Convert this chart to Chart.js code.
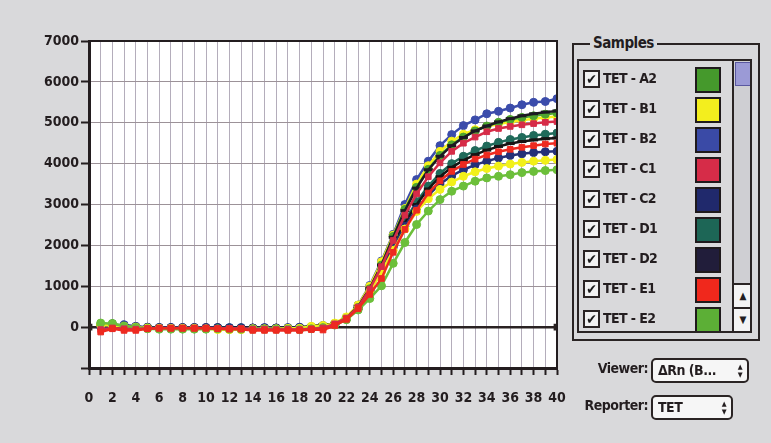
<!DOCTYPE html>
<html>
<head>
<meta charset="utf-8">
<script src="https://cdn.jsdelivr.net/npm/chart.js@4/dist/chart.umd.min.js"></script>
<style>
    html, body {
        margin: 0;
        padding: 0;
        width: 771px;
        height: 443px;
        overflow: hidden;
        background: #d9d9db;
        font-family: "DejaVu Sans Condensed", "Liberation Sans Narrow", "DejaVu Sans", sans-serif;
        font-stretch: condensed;
    }
    #chartBox {
        position: absolute;
        left: 0;
        top: 0;
    }
</style>
</head>
<body>
<canvas id="chartBox" width="575" height="443"></canvas>
<samples-panel></samples-panel>

<script>
// cycle numbers
const cycles = [1, 2, 3, 4, 5, 6, 7, 8, 9, 10, 11, 12, 13, 14, 15, 16, 17, 18, 19, 20,
    21, 22, 23, 24, 25, 26, 27, 28, 29, 30, 31, 32, 33, 34, 35, 36, 37, 38, 39, 40];

// delta Rn per sample, cycles 1..40
const tetA2 = [60, 90, 30, 0, -20, -30, -30, -30, -30, -30, -20, -30, -30, -30, -30, -30, -30, -30, -20, 10,
    70, 210, 480, 940, 1520, 2220, 2880, 3420, 3860, 4200, 4460, 4650, 4800, 4920, 5010, 5080, 5130, 5170, 5210, 5240];
const tetB1 = [40, 20, 10, -10, -30, -30, -30, -20, -20, -20, -50, -60, -60, -40, -40, -30, -30, -30, -10, 30,
    100, 250, 540, 1000, 1600, 2250, 2900, 3500, 3950, 4300, 4550, 4720, 4830, 4910, 4970, 5020, 5060, 5100, 5130, 5150];
const tetB2 = [20, 10, 60, 20, 0, -10, -10, -10, -10, -10, -10, -10, -10, -20, -10, -20, -10, 0, 10, 40,
    90, 240, 540, 1020, 1620, 2270, 3000, 3610, 4060, 4440, 4710, 4930, 5070, 5220, 5280, 5360, 5440, 5500, 5520, 5590];
const tetC1 = [-60, -20, -40, -50, -30, -20, -20, -20, -20, -20, -30, -30, -30, -50, -50, -60, -50, -60, -40, -20,
    80, 220, 490, 930, 1480, 2120, 2740, 3260, 3680, 4020, 4300, 4500, 4650, 4780, 4860, 4910, 4950, 4980, 5010, 5030];
const tetC2 = [10, 0, 30, 10, -10, -10, -10, -10, -10, -10, -10, -20, -20, -20, -20, -20, -20, -10, 0, 30,
    70, 200, 460, 880, 1380, 1950, 2470, 2890, 3230, 3500, 3700, 3850, 3970, 4060, 4140, 4200, 4240, 4270, 4290, 4300];
const tetD1 = [30, 20, 10, 0, -10, -20, -20, -20, -20, -20, -20, -20, -20, -30, -30, -30, -30, -30, -20, 20,
    80, 210, 470, 900, 1420, 2030, 2600, 3070, 3450, 3760, 4000, 4180, 4320, 4430, 4520, 4590, 4640, 4690, 4720, 4750];
const tetD2 = [20, 10, 20, 0, -10, -10, -10, -10, -10, -10, -10, -10, -10, -20, -20, -20, -20, -10, 10, 50,
    80, 220, 500, 950, 1520, 2200, 2850, 3400, 3850, 4180, 4440, 4640, 4800, 4920, 5020, 5100, 5170, 5220, 5260, 5290];
const tetE1 = [-120, -40, -80, -80, -40, -30, -30, -30, -30, -30, -40, -50, -50, -80, -80, -80, -80, -80, -60, -70,
    40, 190, 450, 800, 1190, 1830, 2390, 2860, 3280, 3580, 3810, 3980, 4110, 4210, 4290, 4350, 4400, 4440, 4480, 4500];
const tetE2 = [100, 80, 20, -10, -40, -50, -50, -50, -50, -50, -40, -50, -50, -50, -50, -50, -50, -60, -40, -10,
    50, 180, 420, 700, 1010, 1560, 2070, 2510, 2840, 3120, 3325, 3450, 3570, 3650, 3690, 3730, 3780, 3810, 3830, 3850];
const tetF1 = [50, 40, 20, 0, -20, -30, -30, -30, -30, -40, -60, -60, -60, -40, -40, -40, -30, -30, 20, 40,
    80, 210, 460, 870, 1350, 1880, 2400, 2830, 3140, 3370, 3550, 3690, 3800, 3880, 3940, 3990, 4030, 4060, 4080, 4100];
const tetF2 = [30, 20, 10, 0, -10, -10, -10, -10, -10, -10, -10, -10, -10, -20, -20, -20, -10, 0, 20, 60,
    70, 200, 460, 880, 1400, 2000, 2550, 3000, 3380, 3680, 3910, 4080, 4220, 4330, 4420, 4490, 4540, 4580, 4610, 4630];

const sampleNames = ["TET - A2", "TET - B1", "TET - B2", "TET - C1", "TET - C2", "TET - D1", "TET - D2", "TET - E1", "TET - E2", "TET - F1", "TET - F2"];
const sampleValues = [tetA2, tetB1, tetB2, tetC1, tetC2, tetD1, tetD2, tetE1, tetE2, tetF1, tetF2];
const sampleColors = ["#45992c", "#f3ee1e", "#3a4aa6", "#d62c48", "#20296c", "#1d6656", "#211d3a", "#f0281c", "#5caf36", "#f3ee1e", "#1a1718"];
const plotColors = ["#4ea52f", "#f6f21c", "#3b4cab", "#d62c48", "#243078", "#1f6a5a", "#1c1a22", "#ee2a20", "#6cbf3a", "#f2f01a", "#161414"];
const markerStyles = ["circle", "circle", "circle", "rect", "circle", "circle", "line", "rect", "circle", "circle", "line"];

// threshold line
const thresholdValue = 0;

// y ticks 0..7000, x labels every 2 cycles
const yMin = -1000;
const yMax = 7000;
const xMin = 0;
const xMax = 40;

// order of drawing: first in this list ends up on top
const drawOrder = [7, 3, 8, 9, 4, 6, 0, 1, 10, 5, 2];


class SamplesPanel extends HTMLElement {

    shadow = this.attachShadow({ mode: "open" });

    constructor() {
        super();
        this.shadow.appendChild(this.createStyles());
        this.shadow.appendChild(this.createHTML());
    }

    createHTML() {
        const rows = sampleNames.map((name, i) => `
            <div class="row">
                <div class="check">&#10004;</div>
                <div class="name">${name}</div>
                <div class="swatch" style="background:${sampleColors[i]}"></div>
            </div>`).join("");

        const template = `
            <div class="group"></div>
            <div class="group-title">Samples</div>
            <div class="list">
                <div class="rows">${rows}</div>
                <div class="scroll">
                    <div class="thumb"></div>
                    <div class="arrow up">&#9650;</div>
                    <div class="arrow down">&#9660;</div>
                </div>
            </div>
            <div class="field-label" style="top:360px">Viewer:</div>
            <div class="select" style="top:358px;width:89px">&#916;Rn (B...<span class="spin">&#9650;<br>&#9660;</span></div>
            <div class="field-label" style="top:397px">Reporter:</div>
            <div class="select" style="top:395px;width:73px">TET<span class="spin">&#9650;<br>&#9660;</span></div>
        `;

        const componentRoot = document.createElement("div");
        componentRoot.setAttribute("class", "samples-panel");
        componentRoot.innerHTML = template;
        return componentRoot;
    }

    createStyles() {
        const style = document.createElement("style");
        style.textContent = `
            .samples-panel {
                position: absolute; left: 0; top: 0;
                font-family: "DejaVu Sans Condensed", "Liberation Sans Narrow", "DejaVu Sans", sans-serif;
                font-stretch: condensed; font-weight: bold; color: #231d1f;
            }
            .group {
                position: absolute; left: 572px; top: 43px; width: 184px; height: 294px;
                border: 2px solid #2a2424;
            }
            .group-title {
                position: absolute; left: 590px; top: 34px; padding: 0 3px;
                background: #d9d9db; font-size: 15px; letter-spacing: -0.5px;
            }
            .list {
                position: absolute; left: 577px; top: 59px; width: 171px; height: 270px;
                border: 2px solid #2a2424; overflow: hidden;
            }
            .rows { position: absolute; left: 0; top: 3px; width: 153px; }
            .row { position: relative; height: 30px; }
            .check {
                position: absolute; left: 4px; top: 6px; width: 13px; height: 14px;
                border: 2px solid #2a2424; background: #f2f2f2;
                font-size: 14px; line-height: 14px; text-align: center; color: #1a1a1a;
            }
            .name {
                position: absolute; left: 24px; top: 6px; font-size: 14px; letter-spacing: -0.6px;
                white-space: nowrap;
            }
            .swatch {
                position: absolute; left: 116px; top: 3px; width: 22px; height: 22px;
                border: 2px solid #1f1a1c;
            }
            .scroll {
                position: absolute; left: 153px; top: 0; width: 18px; height: 270px;
                border-left: 2px solid #2a2424; background: #cfcfd3;
            }
            .thumb {
                position: absolute; left: 1px; top: 1px; width: 14px; height: 22px;
                background: #9b9ad6; border: 1px solid #5a58a0;
            }
            .arrow {
                position: absolute; left: 0; width: 18px; height: 22px; background: #f4f4f4;
                border-top: 2px solid #2a2424; font-size: 10px; line-height: 22px; text-align: center;
            }
            .up { top: 222px; }
            .down { top: 246px; }
            .field-label {
                position: absolute; left: 560px; width: 88px; text-align: right;
                font-size: 14px; letter-spacing: -0.5px;
            }
            .select {
                position: absolute; left: 651px; height: 21px; border: 2px solid #2a2424;
                border-radius: 5px; background: #f6f6f6; font-size: 14px; line-height: 21px;
                padding-left: 5px; box-sizing: content-box; letter-spacing: -0.5px;
            }
            .spin {
                position: absolute; right: 5px; top: 3px; font-size: 7px; line-height: 8px;
            }
        `;
        return style;
    }
}

customElements.define("samples-panel", SamplesPanel);


// white plot background, frame on top and right of the plot
const plotFrame = {
    id: "plotFrame",
    beforeDraw(chart) {
        const { ctx, chartArea } = chart;
        ctx.save();
        ctx.fillStyle = "#ffffff";
        ctx.fillRect(chartArea.left, chartArea.top, chartArea.right - chartArea.left, chartArea.bottom - chartArea.top);
        ctx.restore();
    },
    afterDraw(chart) {
        const { ctx, chartArea } = chart;
        ctx.save();
        ctx.strokeStyle = "#231d1f";
        ctx.lineWidth = 2;
        ctx.beginPath();
        ctx.moveTo(chartArea.left, chartArea.top);
        ctx.lineTo(chartArea.right, chartArea.top);
        ctx.lineTo(chartArea.right, chartArea.bottom);
        ctx.stroke();
        ctx.restore();
    }
};

const datasets = drawOrder.map(i => ({
    label: sampleNames[i],
    data: cycles.map((c, k) => ({ x: c, y: sampleValues[i][k] })),
    borderColor: plotColors[i],
    backgroundColor: plotColors[i],
    borderWidth: 2.5,
    pointStyle: markerStyles[i],
    pointRadius: markerStyles[i] === "line" ? 4.5 : 4,
    pointBorderWidth: markerStyles[i] === "line" ? 3 : 1,
    tension: 0
}));

datasets.push({
    label: "Threshold",
    data: [{ x: xMin, y: thresholdValue }, { x: xMax, y: thresholdValue }],
    borderColor: "#2a2222",
    backgroundColor: "#2a2222",
    borderWidth: 2.5,
    pointStyle: "rect",
    pointRadius: 3,
    tension: 0
});

new Chart(document.getElementById("chartBox"), {
    type: "line",
    data: { datasets: datasets },
    plugins: [plotFrame],
    options: {
        responsive: false,
        animation: false,
        layout: { padding: { top: 41, right: 18, left: 0, bottom: 0 } },
        plugins: {
            legend: { display: false },
            tooltip: { enabled: false }
        },
        scales: {
            x: {
                type: "linear",
                min: xMin,
                max: xMax,
                afterFit: scale => {
                    scale.height = 75;
                    scale.paddingLeft = 0;
                    scale.paddingRight = 0;
                },
                ticks: {
                    stepSize: 1,
                    autoSkip: false,
                    maxRotation: 0,
                    padding: 15,
                    color: "#231d1f",
                    font: { family: "'DejaVu Sans Condensed', 'Liberation Sans Narrow', sans-serif", size: 14, weight: "bold" },
                    callback: v => (v % 2 === 0 ? String(v) : "")
                },
                grid: {
                    color: "#b4adbb",
                    lineWidth: 1,
                    tickColor: "#231d1f",
                    tickLength: 7,
                    tickWidth: 2
                },
                border: { color: "#231d1f", width: 3 }
            },
            y: {
                min: yMin,
                max: yMax,
                afterFit: scale => { scale.width = 89; },
                ticks: {
                    stepSize: 1000,
                    padding: 2,
                    color: "#231d1f",
                    font: { family: "'DejaVu Sans Condensed', 'Liberation Sans Narrow', sans-serif", size: 14, weight: "bold" },
                    callback: v => (v < 0 ? "" : String(v))
                },
                grid: {
                    color: "#9c9298",
                    lineWidth: 1,
                    tickColor: "#231d1f",
                    tickLength: 8,
                    tickWidth: 2
                },
                border: { color: "#231d1f", width: 3 }
            }
        }
    }
});
</script>
</body>
</html>
